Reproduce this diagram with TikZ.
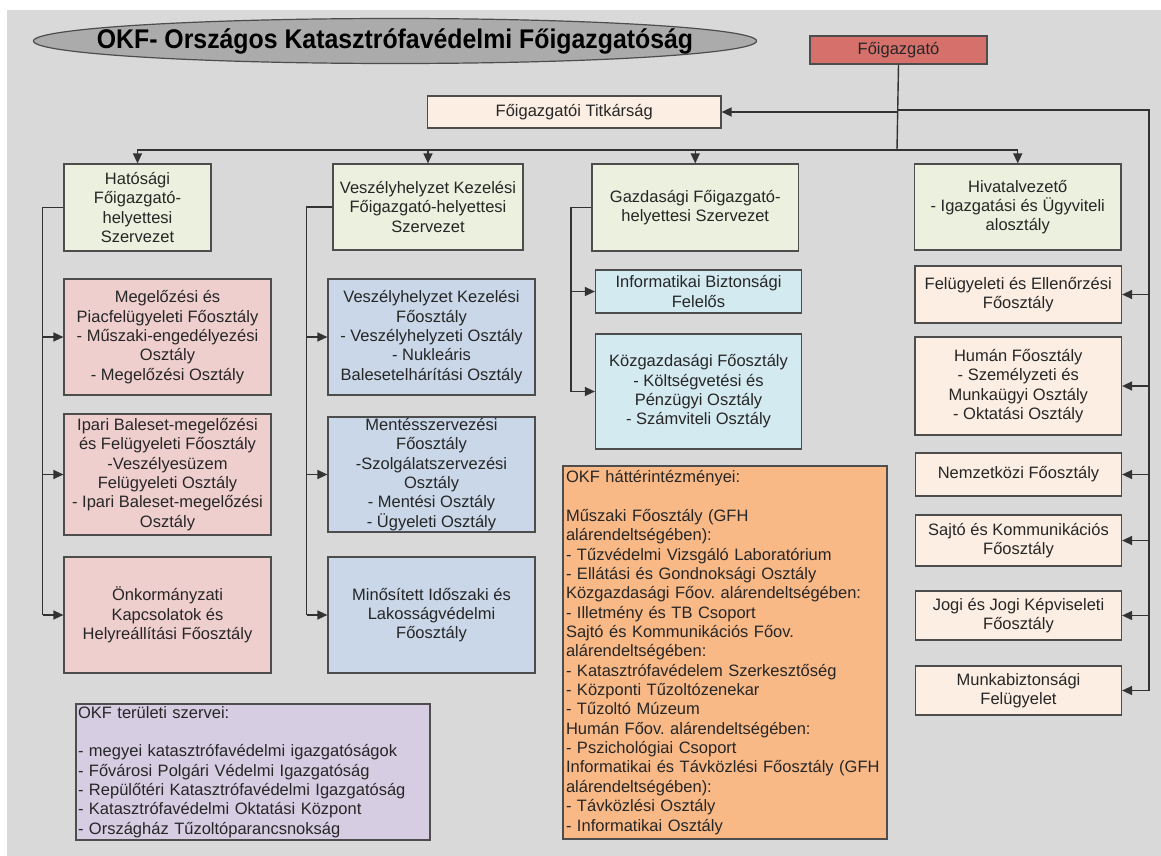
\documentclass[tikz,border=0pt]{standalone}
\usepackage{fontspec}
\setmainfont{Liberation Sans}
\newfontfamily\titlefont[FakeStretch=0.92]{Liberation Sans}
\usetikzlibrary{shapes.geometric,arrows.meta}
\definecolor{bgc}{HTML}{D9D9D9}
\definecolor{bdr}{HTML}{4D4D4D}
\definecolor{lncol}{HTML}{333333}
\definecolor{txt}{HTML}{262626}
\definecolor{ellc}{HTML}{ABABAB}
\definecolor{redc}{HTML}{D5706B}
\definecolor{peach}{HTML}{FCEEE3}
\definecolor{olive}{HTML}{EBF1DE}
\definecolor{pinkc}{HTML}{EFCFCE}
\definecolor{bluec}{HTML}{C9D7E8}
\definecolor{cyanc}{HTML}{D4EAF1}
\definecolor{orng}{HTML}{F9B987}
\definecolor{purp}{HTML}{D7CDE3}
\newcommand\bx[7]{\node[box,#2,minimum width={#5-#3},minimum height={#6-#4}] (#1) at ({(#3+#5)/2},{(#4+#6)/2}) {#7};}
\frenchspacing
\begin{document}
\begin{tikzpicture}[x=1pt,y=-1pt,
  box/.style={draw=bdr, line width=1.2pt, inner sep=0pt, align=center, text=txt,
    font=\fontsize{16.5pt}{19.35pt}\selectfont},
  ln/.style={line width=1.4pt, draw=lncol},
  arr/.style={ln, -{Triangle[length=10pt,width=9pt]}}]
\useasboundingbox (0,0) rectangle (1161,856);
\fill[bgc] (7,10) rectangle (1161,856);
% title
\node[ellipse, draw=bdr, line width=1.2pt, fill=ellc, minimum width=723pt, minimum height=45pt, inner sep=0pt,
  font=\titlefont\bfseries\fontsize{27pt}{30pt}\selectfont, text=black] (title) at (395,41)
  {\makebox[0pt]{OKF- Országos Katasztrófavédelmi Főigazgatóság}};
% boxes
\bx{fo}{fill=redc}{810}{36}{987}{64}{Főigazgató}
\bx{tit}{fill=peach}{427.5}{96}{721}{128}{Főigazgatói Titkárság}
\bx{hat}{fill=olive}{64}{164}{211}{251}{Hatósági\\Főigazgató-\\helyettesi\\Szervezet}
\bx{vk}{fill=olive}{333}{164}{523}{250}{Veszélyhelyzet Kezelési\\Főigazgató-helyettesi\\Szervezet}
\bx{gaz}{fill=olive}{592}{164}{798.5}{251}{Gazdasági Főigazgató-\\helyettesi Szervezet}
\bx{hiv}{fill=olive}{914.5}{164}{1121}{250}{Hivatalvezető\\- Igazgatási és Ügyviteli\\alosztály}
\bx{meg}{fill=pinkc}{64}{279}{271}{395}{Megelőzési és\\Piacfelügyeleti Főosztály\\- Műszaki-engedélyezési\\Osztály\\- Megelőzési Osztály}
\bx{ipa}{fill=pinkc}{64}{414}{271}{535}{Ipari Baleset-megelőzési\\és Felügyeleti Főosztály\\-Veszélyesüzem\\Felügyeleti Osztály\\- Ipari Baleset-megelőzési\\Osztály}
\bx{onk}{fill=pinkc}{64}{557}{271}{673}{Önkormányzati\\Kapcsolatok és\\Helyreállítási Főosztály}
\bx{vkfo}{fill=bluec}{328}{279}{535}{395}{Veszélyhelyzet Kezelési\\Főosztály\\- Veszélyhelyzeti Osztály\\- Nukleáris\\Balesetelhárítási Osztály}
\bx{men}{fill=bluec}{328}{417}{535}{532}{Mentésszervezési\\Főosztály\\-Szolgálatszervezési\\Osztály\\- Mentési Osztály\\- Ügyeleti Osztály}
\bx{min}{fill=bluec}{328}{557}{535}{673}{Minősített Időszaki és\\Lakosságvédelmi\\Főosztály}
\bx{inf}{fill=cyanc}{595.5}{270}{801.5}{313}{Informatikai Biztonsági\\Felelős}
\bx{koz}{fill=cyanc}{595.5}{334}{801.5}{449}{Közgazdasági Főosztály\\- Költségvetési és\\Pénzügyi Osztály\\- Számviteli Osztály}
\bx{fel}{fill=peach}{915}{266}{1121.5}{323}{Felügyeleti és Ellenőrzési\\Főosztály}
\bx{hum}{fill=peach}{915}{337}{1121.5}{435}{Humán Főosztály\\- Személyzeti és\\Munkaügyi Osztály\\- Oktatási Osztály}
\bx{nem}{fill=peach}{915.5}{453}{1121.5}{496}{Nemzetközi Főosztály}
\bx{saj}{fill=peach}{915.5}{515}{1121.5}{566}{Sajtó és Kommunikációs\\Főosztály}
\bx{jog}{fill=peach}{915.5}{591}{1121.5}{640}{Jogi és Jogi Képviseleti\\Főosztály}
\bx{mun}{fill=peach}{915.5}{666}{1121.5}{715}{Munkabiztonsági\\Felügyelet}
\bx{hatt}{fill=orng, align=left, text width=318pt}{563}{466}{887}{839}{OKF háttérintézményei:\\[19.35pt]Műszaki Főosztály (GFH\\alárendeltségében):\\- Tűzvédelmi Vizsgáló Laboratórium\\- Ellátási és Gondnoksági Osztály\\Közgazdasági Főov. alárendeltségében:\\- Illetmény és TB Csoport\\Sajtó és Kommunikációs Főov.\\alárendeltségében:\\- Katasztrófavédelem Szerkesztőség\\- Központi Tűzoltózenekar\\- Tűzoltó Múzeum\\Humán Főov. alárendeltségében:\\- Pszichológiai Csoport\\Informatikai és Távközlési Főosztály (GFH\\alárendeltségében):\\- Távközlési Osztály\\- Informatikai Osztály}
\bx{ter}{fill=purp, align=left, text width=350pt}{76}{704}{430}{840}{OKF területi szervei:\\[19.35pt]- megyei katasztrófavédelmi igazgatóságok\\- Fővárosi Polgári Védelmi Igazgatóság\\- Repülőtéri Katasztrófavédelmi Igazgatóság\\- Katasztrófavédelmi Oktatási Központ\\- Országház Tűzoltóparancsnokság}
% junctions
\coordinate (bus) at (897,150);
\coordinate (jt) at (897,112);
\coordinate (jr) at (897,110);
\coordinate (rt) at (1149,110);
\coordinate (lc) at (42.6,207.5);
\coordinate (mc) at (306.7,207);
\coordinate (gc) at (571,207.5);
% connectors
\draw[ln] (fo.south) -- (bus);
\draw[arr] (jt) -- (tit.east);
\draw[arr] (bus) -| (hat.north);
\draw[arr] (bus) -| (vk.north);
\draw[arr] (bus) -| (gaz.north);
\draw[arr] (bus) -| (hiv.north);
\draw[ln] (jr) -- (rt) -- (rt |- mun.east);
\foreach \n in {fel,hum,nem,saj,jog,mun} \draw[arr] (rt |- \n.east) -- (\n.east);
\draw[ln] (hat.west) -- (lc) -- (lc |- onk.west);
\foreach \n in {meg,ipa,onk} \draw[arr] (lc |- \n.west) -- (\n.west);
\draw[ln] (vk.west) -- (mc) -- (mc |- min.west);
\foreach \n in {vkfo,men,min} \draw[arr] (mc |- \n.west) -- (\n.west);
\draw[ln] (gaz.west) -- (gc) -- (gc |- koz.west);
\foreach \n in {inf,koz} \draw[arr] (gc |- \n.west) -- (\n.west);
\end{tikzpicture}
\end{document}
